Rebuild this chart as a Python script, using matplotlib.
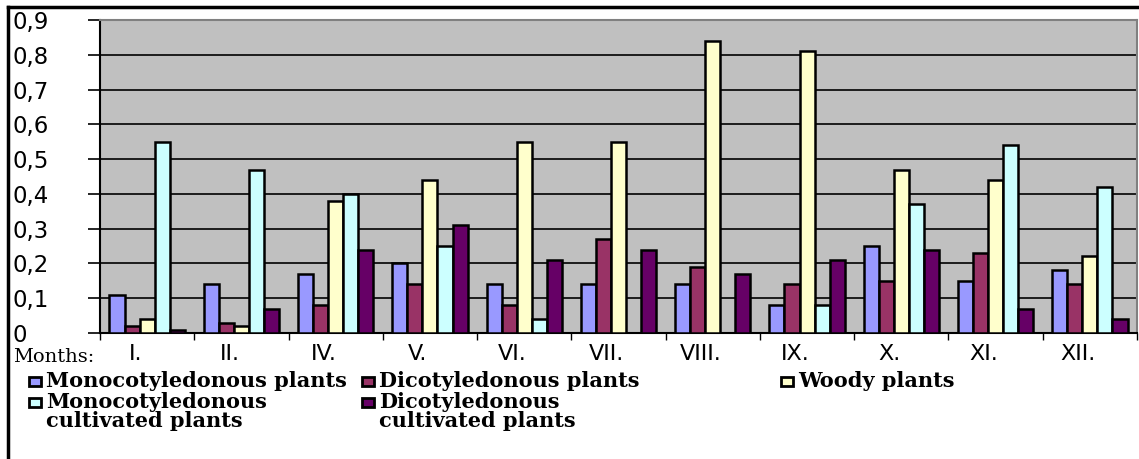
import matplotlib.pyplot as plt
import numpy as np
from matplotlib.patches import Rectangle
from matplotlib.lines import Line2D
import matplotlib.transforms as mtrans

months = ["I.", "II.", "IV.", "V.", "VI.", "VII.", "VIII.", "IX.", "X.", "XI.", "XII."]
mono = [0.11, 0.14, 0.17, 0.20, 0.14, 0.14, 0.14, 0.08, 0.25, 0.15, 0.18]
dicot = [0.02, 0.03, 0.08, 0.14, 0.08, 0.27, 0.19, 0.14, 0.15, 0.23, 0.14]
woody = [0.04, 0.02, 0.38, 0.44, 0.55, 0.55, 0.84, 0.81, 0.47, 0.44, 0.22]
mono_cult = [0.55, 0.47, 0.40, 0.25, 0.04, 0.0, 0.0, 0.08, 0.37, 0.54, 0.42]
dicot_cult = [0.01, 0.07, 0.24, 0.31, 0.21, 0.24, 0.17, 0.21, 0.24, 0.07, 0.04]
yticks = [0, 0.1, 0.2, 0.3, 0.4, 0.5, 0.6, 0.7, 0.8, 0.9]
ytick_labels = ["0", "0,1", "0,2", "0,3", "0,4", "0,5", "0,6", "0,7", "0,8", "0,9"]

series = [
    ("Monocotyledonous plants", mono, "#9999FF"),
    ("Dicotyledonous plants", dicot, "#993366"),
    ("Woody plants", woody, "#FFFFCC"),
    ("Monocotyledonous\ncultivated plants", mono_cult, "#CCFFFF"),
    ("Dicotyledonous\ncultivated plants", dicot_cult, "#660066"),
]

W, H = 1139, 459
fig = plt.figure(figsize=(W / 100, H / 100), dpi=100, facecolor="white")
ax = fig.add_axes([100 / W, 1 - 333 / H, 1037 / W, 313 / H])
ax.set_facecolor("#C0C0C0")

x = np.arange(len(months))
w = 0.16
for i, (lab, vals, col) in enumerate(series):
    ax.bar(x + (i - 2) * w, vals, w, color=col, edgecolor="black",
           linewidth=1.8, zorder=3)

ax.set_xlim(-0.5, len(months) - 0.5)
ax.set_ylim(0, 0.9)

# grid
ax.set_yticks(yticks)
ax.set_yticklabels(ytick_labels, fontsize=16.5, family="DejaVu Sans")
for t in ax.get_yticklabels():
    t.set_horizontalalignment("left")
ax.tick_params(axis="y", length=9, width=1.2, pad=54, color="black")
for yv in yticks[1:-1]:
    ax.axhline(yv, color="black", linewidth=1.2, zorder=1)

# x ticks: marks at boundaries, labels at centers
ax.set_xticks(np.arange(len(months) + 1) - 0.5)
ax.set_xticklabels([])
ax.tick_params(axis="x", length=5, width=1.0, color="black")
ax.set_xticks(x, minor=True)
ax.set_xticklabels(months, minor=True, fontsize=16, family="DejaVu Sans")
ax.tick_params(axis="x", which="minor", length=0, pad=8)
shift = mtrans.ScaledTranslation(-12 / 100, 0, fig.dpi_scale_trans)
for t in ax.xaxis.get_minorticklabels():
    t.set_transform(t.get_transform() + shift)

for s in ["top", "right"]:
    ax.spines[s].set_color("#808080")
    ax.spines[s].set_linewidth(1.5)
for s in ["left", "bottom"]:
    ax.spines[s].set_color("black")
    ax.spines[s].set_linewidth(1.5)

fig.text(13 / W, 1 - 357 / H, "Months:", fontsize=14, family="DejaVu Serif",
         va="center", ha="left")

# legend, drawn by hand so markers sit on the first text line
legend_pos = [(29, 381), (362, 381), (781, 381), (29, 402), (362, 402)]
for (lab, vals, col), (lx, ly) in zip(series, legend_pos):
    fig.add_artist(Rectangle((lx / W, 1 - (ly + 5) / H), 12 / W, 9 / H,
                             transform=fig.transFigure, facecolor=col,
                             edgecolor="black", linewidth=2))
    fig.text((lx + 17) / W, 1 - (ly - 10) / H, lab, fontsize=15,
             family="DejaVu Serif", weight="bold", va="top", ha="left",
             linespacing=0.95, transform=fig.transFigure)

# outer frame (top and left)
fig.add_artist(Line2D([8 / W, 1], [1 - 7 / H, 1 - 7 / H], color="black",
                      linewidth=2.5, transform=fig.transFigure))
fig.add_artist(Line2D([8 / W, 8 / W], [0, 1 - 7 / H], color="black",
                      linewidth=2.5, transform=fig.transFigure))

fig.savefig("out.png", dpi=100, facecolor="white")
